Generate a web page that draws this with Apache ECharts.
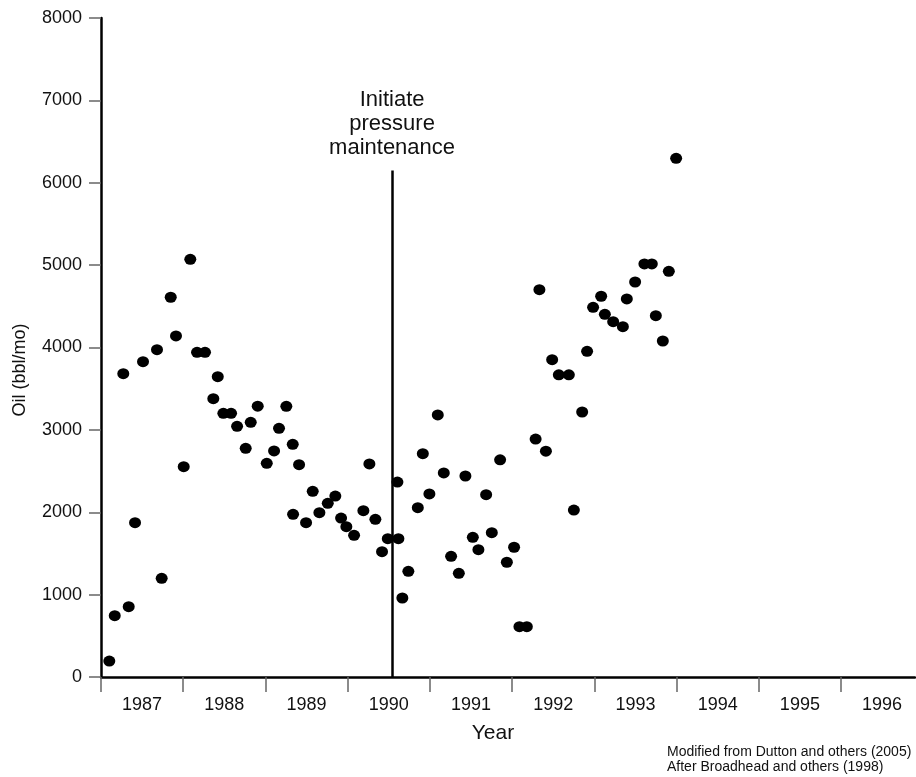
<!DOCTYPE html>
<html>
<head>
<meta charset="utf-8">
<script src="https://cdn.jsdelivr.net/npm/echarts@6/dist/echarts.min.js"></script>
<style>
  html, body { margin: 0; padding: 0; background: #fff; }
  #chart { width: 916px; height: 777px; }
</style>
</head>
<body>
<div id="chart"></div>
<script>
// Decimal year of each monthly observation
const years = [
  1986.601, 1986.667, 1986.771, 1986.837, 1986.914, 1987.011, 1987.181, 1987.238, 1987.348, 1987.412,
  1987.506, 1987.586, 1987.668, 1987.765, 1987.866, 1987.920, 1987.988, 1988.082, 1988.155, 1988.260,
  1988.321, 1988.406, 1988.516, 1988.605, 1988.665, 1988.754, 1988.832, 1988.836, 1988.909, 1988.994,
  1989.075, 1989.156, 1989.258, 1989.350, 1989.420, 1989.484, 1989.578, 1989.691, 1989.764, 1989.837,
  1989.918, 1989.988, 1990.105, 1990.117, 1990.165, 1990.238, 1990.353, 1990.414, 1990.494, 1990.596,
  1990.669, 1990.758, 1990.852, 1990.932, 1991.022, 1991.090, 1991.184, 1991.253, 1991.354, 1991.436,
  1991.524, 1991.589, 1991.679, 1991.786, 1991.832, 1991.911, 1991.987, 1992.068, 1992.190, 1992.251,
  1992.352, 1992.412, 1992.485, 1992.583, 1992.628, 1992.729, 1992.847, 1992.895, 1992.996, 1993.109,
  1993.199, 1993.248, 1993.333, 1993.406, 1993.495
];
// Oil production (bbl/mo)
const oil = [
  194, 744, 3682, 853, 1873, 3828, 3974, 1198, 4610, 4140,
  2553, 5071, 3942, 3942, 3379, 3646, 3201, 3201, 3043, 2776,
  3092, 3288, 2594, 2744, 3019, 3286, 2825, 1975, 2577, 1873,
  2254, 1995, 2109, 2197, 1930, 1825, 1720, 2019, 2586, 1914,
  1521, 1679, 2367, 1679, 959, 1283, 2055, 2711, 2222, 3181,
  2477, 1465, 1259, 2440, 1696, 1545, 2213, 1752, 2636, 1393,
  1575, 611, 611, 2889, 4702, 2742, 3852, 3668, 3668, 2027,
  3217, 3954, 4488, 4622, 4403, 4314, 4253, 4589, 4795, 5014,
  5014, 4386, 4079, 4925, 6297
];
const yearLabels = [1987, 1988, 1989, 1990, 1991, 1992, 1993, 1994, 1995, 1996];
const yearBoundaries = [1986.5, 1987.5, 1988.5, 1989.5, 1990.5, 1991.5, 1992.5, 1993.5, 1994.5, 1995.5];
const pressureStart = 1990.04;
const pressureLineTop = 6150;
const annotationText = 'Initiate\npressure\nmaintenance';
const creditLines = ['Modified from Dutton and others (2005)', 'After Broadhead and others (1998)'];

const points = years.map((y, i) => [y, oil[i]]);
const FONT = '"Liberation Sans", Arial, Helvetica, sans-serif';

const chart = echarts.init(document.getElementById('chart'), null, { renderer: 'canvas' });
chart.setOption({
  animation: false,
  backgroundColor: '#ffffff',
  textStyle: { fontFamily: FONT },
  grid: { left: 101, top: 18, right: 1, bottom: 100, containLabel: false },
  xAxis: {
    type: 'value',
    min: 1986.5,
    max: 1996.4,
    splitLine: { show: false },
    axisLine: { show: true, onZero: false, lineStyle: { color: '#000', width: 2.5 } },
    axisTick: { show: true, inside: false, length: 15, customValues: yearBoundaries, lineStyle: { color: '#666', width: 1.5 } },
    axisLabel: { show: true, customValues: yearLabels, margin: 19, fontSize: 18, color: '#111', fontFamily: FONT, formatter: v => String(Math.round(v)) }
  },
  yAxis: {
    type: 'value',
    min: 0,
    max: 8000,
    interval: 1000,
    splitLine: { show: false },
    axisLine: { show: true, onZero: false, lineStyle: { color: '#000', width: 2.5 } },
    axisTick: { show: true, length: 12, lineStyle: { color: '#666', width: 1.5 } },
    axisLabel: { margin: 19, fontSize: 18, color: '#111', fontFamily: FONT, formatter: v => String(v) }
  },
  graphic: [
    { type: 'text', x: 493, y: 733, style: { text: 'Year', fontSize: 21, fontFamily: FONT, fill: '#111', align: 'center', verticalAlign: 'middle' } },
    { type: 'text', x: 20, y: 370, rotation: Math.PI / 2, style: { text: 'Oil (bbl/mo)', fontSize: 18, fontFamily: FONT, fill: '#111', align: 'center', verticalAlign: 'middle' } },
    { type: 'text', left: 667, top: 744, style: { text: creditLines.join('\n'), fontSize: 14, lineHeight: 15.5, fontFamily: FONT, fill: '#111' } }
  ],
  series: [{
    type: 'scatter',
    data: points,
    symbol: 'circle',
    symbolSize: [12, 11],
    itemStyle: { color: '#000', opacity: 1 },
    silent: true,
    markLine: {
      silent: true,
      symbol: 'none',
      lineStyle: { color: '#000', width: 2.5, type: 'solid', opacity: 1 },
      label: {
        show: true,
        position: 'end',
        formatter: annotationText,
        fontSize: 22,
        lineHeight: 24,
        color: '#111',
        fontFamily: FONT,
        distance: 10
      },
      data: [[{ coord: [pressureStart, 0] }, { coord: [pressureStart, pressureLineTop] }]]
    }
  }]
});
</script>
</body>
</html>
